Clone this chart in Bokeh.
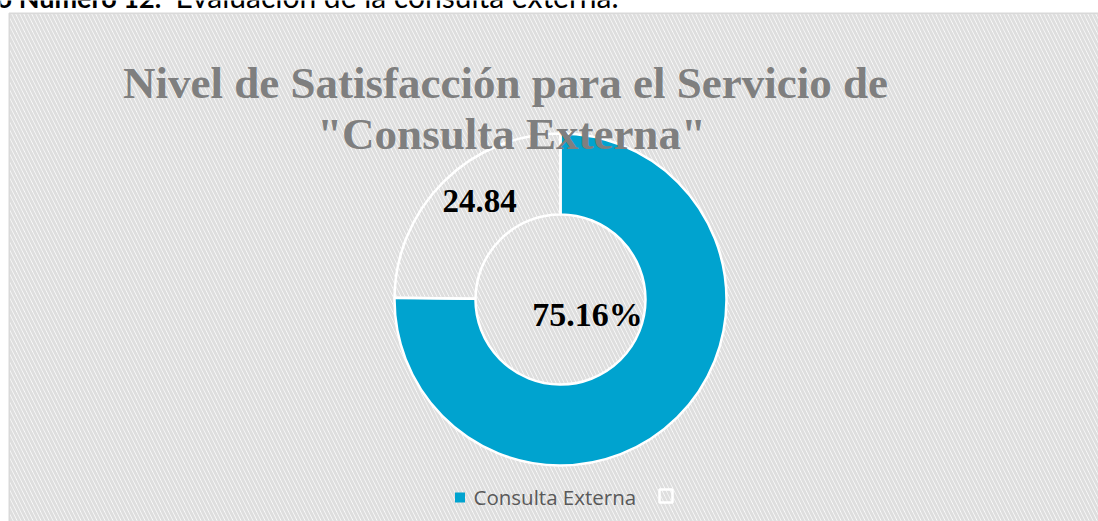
import numpy as np
from bokeh.plotting import figure
from bokeh.models import Range1d, ColumnDataSource
from bokeh.core.properties import value
from bokeh.embed import file_html
from bokeh.resources import INLINE

# ---- data ----
categories = ["Consulta Externa", ""]
values = [75.16, 24.84]
slice_labels = ["75.16%", "24.84"]
slice_colors = ["#00A3CF", "#FFFFFF"]
slice_alphas = [1.0, 0.0]
title_lines = ["Nivel de Satisfacción para el Servicio de", "\"Consulta Externa\""]
caption_bold = "Gráfico Número 12:"
caption_text = "Evaluación de la consulta externa."

# ---- layout (screen pixel positions of the reference) ----
W, H = 1098, 521


def X(sx):
    return sx


def Y(sy):
    return H - sy


p = figure(width=W, height=H, x_range=Range1d(0, W), y_range=Range1d(0, H),
           output_backend="svg", toolbar_location=None, min_border=0,
           x_axis_location=None, y_axis_location=None)
p.grid.visible = False
p.outline_line_color = None
p.background_fill_color = "white"
p.border_fill_color = "white"

# chart area with diagonal hatch
p.quad(left=[X(8.75)], right=[X(1110)], top=[Y(12.75)], bottom=[Y(530)],
       fill_color="white", hatch_pattern="\\", hatch_color="#dedede",
       hatch_weight=3, hatch_scale=8, line_color="#d9d9d9", line_width=1.5)

# caption (cut at the top of the page)
p.text(x=[X(161)], y=[Y(-3.0)], text=[caption_bold], text_align="right",
       text_baseline="middle", text_font=value("Lato"), text_font_style="bold",
       text_font_size=value("27px"), text_color="black")
p.text(x=[X(175)], y=[Y(-4.4)], text=[caption_text], text_align="left",
       text_baseline="middle", text_font=value("Lato"), text_font_style="normal",
       text_font_size=value("30px"), text_color="black")

# donut
vals = np.array(values, dtype=float)
frac = vals / vals.sum()
cum = np.cumsum(frac)
start = np.pi / 2 - 2 * np.pi * cum
end = np.pi / 2 - 2 * np.pi * (cum - frac)
cx, cy = X(560), Y(299)
src = ColumnDataSource(dict(start=start, end=end, color=slice_colors, alpha=slice_alphas,
                            cat=categories))
p.annular_wedge(x=cx, y=cy, inner_radius=85, outer_radius=166, start_angle="start",
                end_angle="end", fill_color="color", fill_alpha="alpha",
                line_color="white", line_width=2.5, source=src)

# data labels
label_sx = [587, 479]
label_sy = [314, 200]
label_sizes = ["34px", "33px"]
for sx, sy, t, fs in zip(label_sx, label_sy, slice_labels, label_sizes):
    p.text(x=[X(sx)], y=[Y(sy)], text=[t], text_align="center", text_baseline="middle",
           text_font=value("Liberation Serif"), text_font_style="bold",
           text_font_size=value(fs), text_color="black")

# title
title_sx = [505, 511]
title_sy = [82, 133]
p.text(x=[X(v) for v in title_sx], y=[Y(v) for v in title_sy], text=title_lines,
       text_align="center", text_baseline="middle",
       text_font=value("Liberation Serif"), text_font_style="bold",
       text_font_size=value("45px"), text_color="#7F7F7F")

# legend
p.rect(x=[X(459.5)], y=[Y(497)], width=10, height=10, fill_color=slice_colors[0],
       line_color=None)
p.text(x=[X(473)], y=[Y(496)], text=[categories[0]], text_align="left",
       text_baseline="middle", text_font=value("Open Sans"),
       text_font_size=value("20.5px"), text_color="#595959")
p.rect(x=[X(665.5)], y=[Y(495.5)], width=13, height=13, fill_color=None,
       line_color="white", line_width=2.5)
p.text(x=[X(680)], y=[Y(496)], text=[categories[1]], text_align="left",
       text_baseline="middle", text_font=value("Open Sans"),
       text_font_size=value("20.5px"), text_color="#595959")

open("out.html", "w").write(file_html(p, INLINE))
